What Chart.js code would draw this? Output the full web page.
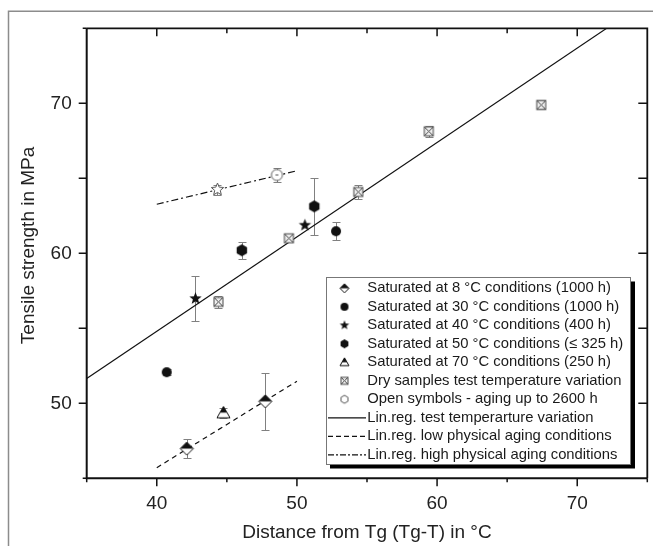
<!DOCTYPE html>
<html>
<head>
<meta charset="utf-8">
<script src="https://cdn.jsdelivr.net/npm/chart.js@4.4.1/dist/chart.umd.min.js"></script>
<style>
  html, body { margin: 0; padding: 0; background: #fff; overflow: hidden; }
  canvas { display: block; }
</style>
</head>
<body>
<canvas id="chart" width="653" height="546"></canvas>
<script>
// --- data (x = Tg-T in °C, y = tensile strength in MPa, err = +/- bar) ---
const sat8X = [42.14, 47.74];
const sat8Y = [46.98, 50.13];
const sat8Err = [0.63, 1.9];

const sat30X = [40.71, 52.79];
const sat30Y = [52.07, 61.47];
const sat30Err = [0.2, 0.59];

const sat40X = [42.76, 50.57];
const sat40Y = [56.98, 61.87];
const sat40Err = [1.51, 0];

const sat50X = [46.07, 51.24];
const sat50Y = [60.2, 63.13];
const sat50Err = [0.57, 1.89];

const sat70X = [44.76];
const sat70Y = [49.36];
const sat70Err = [0.35];

const dryX = [44.4, 49.43, 54.38, 59.41, 67.43];
const dryY = [56.76, 61.0, 64.09, 68.13, 69.89];
const dryErr = [0.4, 0.15, 0.45, 0.35, 0.3];

const openX = [44.33, 48.57];
const openY = [64.25, 65.22];
const openErr = [0.33, 0.45];

// regression lines (end points)
const fitTestX = [35, 72.1];
const fitTestY = [51.65, 75];
const fitLowX = [40, 50];
const fitLowY = [45.71, 51.47];
const fitHighX = [40, 50];
const fitHighY = [63.27, 65.5];

const X_TICKS = [35, 40, 45, 50, 55, 60, 65, 70, 75];
const X_LABELS = [40, 50, 60, 70];
const Y_TICKS = [45, 50, 55, 60, 65, 70, 75];
const Y_LABELS = [50, 60, 70];

const X_TITLE = "Distance from Tg (Tg-T) in °C";
const Y_TITLE = "   Tensile strength in MPa";

const LEGEND_LABELS = [
  "Saturated at 8 °C conditions (1000 h)",
  "Saturated at 30 °C conditions (1000 h)",
  "Saturated at 40 °C conditions (400 h)",
  "Saturated at 50 °C conditions (\u2264 325 h)",
  "Saturated at 70 °C conditions (250 h)",
  "Dry samples test temperature variation",
  "Open symbols - aging up to 2600 h",
  "Lin.reg. test temperarture variation",
  "Lin.reg. low physical aging conditions",
  "Lin.reg. high physical aging conditions"
];

const FONT = "'Liberation Sans', Arial, Helvetica, sans-serif";
const INK = "#111";

// --- marker images ---
function starPath(g, c, r, ri) {
  g.beginPath();
  for (let k = 0; k < 10; k++) {
    const a = -Math.PI / 2 + k * Math.PI / 5;
    const rr = k % 2 === 0 ? r : ri;
    const px = c + rr * Math.cos(a), py = c + rr * Math.sin(a);
    k === 0 ? g.moveTo(px, py) : g.lineTo(px, py);
  }
  g.closePath();
}

function hexPath(g, c, r) {
  g.beginPath();
  for (let k = 0; k < 6; k++) {
    const a = -Math.PI / 2 + k * Math.PI / 3;
    const px = c + r * Math.cos(a), py = c + r * Math.sin(a);
    k === 0 ? g.moveTo(px, py) : g.lineTo(px, py);
  }
  g.closePath();
}

function makeMarker(kind, r) {
  const size = Math.ceil(2 * r + 4);
  const cv = document.createElement("canvas");
  cv.width = size;
  cv.height = size;
  const g = cv.getContext("2d");
  const c = size / 2;
  g.lineWidth = 1;
  g.strokeStyle = INK;
  g.fillStyle = INK;

  if (kind === "diamondHalf") {
    g.beginPath();
    g.moveTo(c, c - r); g.lineTo(c + r, c); g.lineTo(c, c + r); g.lineTo(c - r, c);
    g.closePath();
    g.fillStyle = "#fff";
    g.fill();
    g.stroke();
    g.beginPath();
    g.moveTo(c, c - r); g.lineTo(c + r, c); g.lineTo(c - r, c);
    g.closePath();
    g.fillStyle = INK;
    g.fill();
  } else if (kind === "circle") {
    g.beginPath();
    g.arc(c, c, r, 0, Math.PI * 2);
    g.fill();
  } else if (kind === "hex") {
    hexPath(g, c, r);
    g.fill();
  } else if (kind === "star") {
    starPath(g, c, r, r * 0.42);
    g.fill();
  } else if (kind === "triHalf") {
    const yTop = c - r, yBot = c + r * 0.75;
    g.beginPath();
    g.moveTo(c, yTop); g.lineTo(c + r, yBot); g.lineTo(c - r, yBot);
    g.closePath();
    g.fillStyle = "#fff";
    g.fill();
    g.save();
    g.clip();
    g.fillStyle = INK;
    g.fillRect(0, 0, size, (yTop + yBot) / 2 + 0.5);
    g.restore();
    g.stroke();
  } else if (kind === "boxX") {
    const h = r;
    g.strokeStyle = "#4a4a4a";
    g.fillStyle = "#eeeeee";
    g.fillRect(c - h, c - h, 2 * h, 2 * h);
    g.strokeRect(c - h, c - h, 2 * h, 2 * h);
    g.beginPath();
    g.moveTo(c - h, c - h); g.lineTo(c + h, c + h);
    g.moveTo(c + h, c - h); g.lineTo(c - h, c + h);
    g.stroke();
  } else if (kind === "openCircle") {
    g.strokeStyle = "#555";
    g.fillStyle = "#fff";
    g.beginPath();
    g.arc(c, c, r, 0, Math.PI * 2);
    g.fill();
    g.stroke();
    g.beginPath();
    g.moveTo(c - 1.5, c); g.lineTo(c + 1.5, c);
    g.stroke();
  } else if (kind === "openStar") {
    g.strokeStyle = "#555";
    g.fillStyle = "#fff";
    starPath(g, c, r, r * 0.45);
    g.fill();
    g.stroke();
  } else if (kind === "openHex") {
    g.strokeStyle = "#555";
    g.fillStyle = "#fff";
    hexPath(g, c, r);
    g.fill();
    g.stroke();
  }
  return cv;
}

const mDiamond = makeMarker("diamondHalf", 6.5);
const mCircle = makeMarker("circle", 5);
const mStar = makeMarker("star", 6.5);
const mHex = makeMarker("hex", 6);
const mTri = makeMarker("triHalf", 6.5);
const mBox = makeMarker("boxX", 4.5);
const mOpenStar = makeMarker("openStar", 6.5);
const mOpenCircle = makeMarker("openCircle", 5.5);

const legendMarkers = [
  makeMarker("diamondHalf", 4.5),
  makeMarker("circle", 4),
  makeMarker("star", 5),
  makeMarker("hex", 4.5),
  makeMarker("triHalf", 4.5),
  makeMarker("boxX", 3.5),
  makeMarker("openHex", 4),
  null, null, null
];
const legendDashes = [null, null, null, null, null, null, null, [], [5, 3], [6, 2, 2, 2]];

function pts(xs, ys) {
  return xs.map((x, i) => ({ x: x, y: ys[i] }));
}

// --- plugins: error bars, axis frame with ticks, legend ---
const errorBars = {
  id: "errorBars",
  beforeDatasetsDraw(chart) {
    const { ctx } = chart;
    const xs = chart.scales.x, ys = chart.scales.y;
    ctx.save();
    ctx.strokeStyle = "#808080";
    ctx.lineWidth = 1;
    chart.data.datasets.forEach(ds => {
      if (!ds.errors) return;
      ds.data.forEach((p, i) => {
        const e = ds.errors[i];
        if (!e) return;
        const px = Math.round(xs.getPixelForValue(p.x)) + 0.5;
        const t = Math.round(ys.getPixelForValue(p.y + e)) + 0.5;
        const b = Math.round(ys.getPixelForValue(p.y - e)) + 0.5;
        ctx.beginPath();
        ctx.moveTo(px, t); ctx.lineTo(px, b);
        ctx.moveTo(px - 4, t); ctx.lineTo(px + 4, t);
        ctx.moveTo(px - 4, b); ctx.lineTo(px + 4, b);
        ctx.stroke();
      });
    });
    ctx.restore();
  }
};

const frame = {
  id: "frame",
  beforeDraw(chart) {
    const { ctx } = chart;
    ctx.save();
    ctx.strokeStyle = "#8c8c8c";
    ctx.lineWidth = 1.5;
    ctx.beginPath();
    ctx.moveTo(8.5, 546);
    ctx.lineTo(8.5, 11.3);
    ctx.lineTo(653, 11.3);
    ctx.stroke();
    ctx.restore();
  },
  afterDatasetsDraw(chart) {
    const { ctx, chartArea: a } = chart;
    const xs = chart.scales.x, ys = chart.scales.y;
    ctx.save();
    ctx.strokeStyle = INK;
    ctx.lineCap = "butt";
    // left + bottom axes
    ctx.lineWidth = 2;
    ctx.beginPath();
    ctx.moveTo(a.left, a.top); ctx.lineTo(a.left, a.bottom); ctx.lineTo(a.right, a.bottom);
    ctx.stroke();
    // top + right axes
    ctx.lineWidth = 1.8;
    ctx.beginPath();
    ctx.moveTo(a.left, a.top); ctx.lineTo(a.right, a.top); ctx.lineTo(a.right, a.bottom);
    ctx.stroke();

    ctx.lineWidth = 1.5;
    ctx.beginPath();
    X_TICKS.forEach(v => {
      const px = xs.getPixelForValue(v);
      const major = v % 10 === 0;
      const edge = v === X_TICKS[0] || v === X_TICKS[X_TICKS.length - 1];
      ctx.moveTo(px, a.bottom); ctx.lineTo(px, a.bottom + (major ? 8 : 4));
      if (!edge) { ctx.moveTo(px, a.top); ctx.lineTo(px, a.top + (major ? 8 : 5)); }
    });
    Y_TICKS.forEach(v => {
      const py = ys.getPixelForValue(v);
      const edge = v === Y_TICKS[0] || v === Y_TICKS[Y_TICKS.length - 1];
      ctx.moveTo(a.left, py); ctx.lineTo(a.left - (edge ? 4 : 8), py);
      if (!edge) { ctx.moveTo(a.right, py); ctx.lineTo(a.right - 9, py); }
    });
    ctx.stroke();
    ctx.restore();
  },
  afterDraw(chart) {
    const { ctx } = chart;
    const bx = 326, by = 277.5, bw = 305, bh = 187;
    ctx.save();
    ctx.fillStyle = "#000";
    ctx.fillRect(bx + 4, by + 4, bw, bh);
    ctx.fillStyle = "#fff";
    ctx.fillRect(bx, by, bw, bh);
    ctx.strokeStyle = "#777";
    ctx.lineWidth = 1;
    ctx.strokeRect(bx + 0.5, by, bw - 1, bh);

    ctx.font = "14.8px " + FONT;
    ctx.textBaseline = "middle";
    ctx.textAlign = "left";
    LEGEND_LABELS.forEach((label, i) => {
      const ry = 288.3 + i * 18.5;
      const m = legendMarkers[i];
      if (m) {
        ctx.drawImage(m, 344.5 - m.width / 2, ry - m.height / 2);
      } else {
        ctx.strokeStyle = INK;
        ctx.lineWidth = 1.2;
        ctx.setLineDash(legendDashes[i]);
        ctx.beginPath();
        ctx.moveTo(328, ry); ctx.lineTo(366, ry);
        ctx.stroke();
        ctx.setLineDash([]);
      }
      ctx.fillStyle = "#1a1a1a";
      ctx.fillText(label, 367.3, ry);
    });
    ctx.restore();
  }
};

// --- chart ---
const tickFont = { family: FONT, size: 19 };

const chart = new Chart(document.getElementById("chart").getContext("2d"), {
  type: "scatter",
  data: {
    datasets: [
      { label: LEGEND_LABELS[0], data: pts(sat8X, sat8Y), errors: sat8Err, pointStyle: mDiamond },
      { label: LEGEND_LABELS[1], data: pts(sat30X, sat30Y), errors: sat30Err, pointStyle: mCircle },
      { label: LEGEND_LABELS[2], data: pts(sat40X, sat40Y), errors: sat40Err, pointStyle: mStar },
      { label: LEGEND_LABELS[3], data: pts(sat50X, sat50Y), errors: sat50Err, pointStyle: mHex },
      { label: LEGEND_LABELS[4], data: pts(sat70X, sat70Y), errors: sat70Err, pointStyle: mTri },
      { label: LEGEND_LABELS[5], data: pts(dryX, dryY), errors: dryErr, pointStyle: mBox },
      { label: LEGEND_LABELS[6], data: pts(openX, openY), errors: openErr, pointStyle: [mOpenStar, mOpenCircle] },
      { label: LEGEND_LABELS[7], data: pts(fitTestX, fitTestY), showLine: true, pointRadius: 0,
        borderColor: INK, borderWidth: 1.2 },
      { label: LEGEND_LABELS[8], data: pts(fitLowX, fitLowY), showLine: true, pointRadius: 0,
        borderColor: INK, borderWidth: 1.2, borderDash: [5, 4] },
      { label: LEGEND_LABELS[9], data: pts(fitHighX, fitHighY), showLine: true, pointRadius: 0,
        borderColor: INK, borderWidth: 1.2, borderDash: [7, 3, 2, 3] }
    ]
  },
  options: {
    responsive: false,
    animation: false,
    devicePixelRatio: 1,
    layout: { padding: { top: 28.3, right: 5.7, left: 0, bottom: 0 } },
    plugins: { legend: { display: false }, tooltip: { enabled: false } },
    scales: {
      x: {
        type: "linear", position: "bottom", min: 35, max: 75,
        afterBuildTicks: s => { s.ticks = X_TICKS.map(v => ({ value: v })); },
        afterFit: s => { s.height = 67.7; },
        grid: { display: false }, border: { display: false },
        ticks: {
          autoSkip: false, maxRotation: 0, padding: 5.7, color: "#222", font: tickFont,
          callback: v => (X_LABELS.includes(v) ? String(v) : "")
        },
        title: { display: true, text: X_TITLE, color: "#222", font: tickFont, padding: { top: 1.6, bottom: 1.6 } }
      },
      y: {
        type: "linear", position: "left", min: 45, max: 75,
        afterBuildTicks: s => { s.ticks = Y_TICKS.map(v => ({ value: v })); },
        afterFit: s => { s.width = 86.7; },
        grid: { display: false }, border: { display: false },
        ticks: {
          autoSkip: false, padding: 7, color: "#222", font: tickFont,
          callback: v => (Y_LABELS.includes(v) ? String(v) : "")
        },
        title: { display: true, text: Y_TITLE, color: "#222", font: tickFont, padding: { top: 17.6, bottom: 17.6 } }
      }
    }
  },
  plugins: [errorBars, frame]
});
</script>
</body>
</html>
